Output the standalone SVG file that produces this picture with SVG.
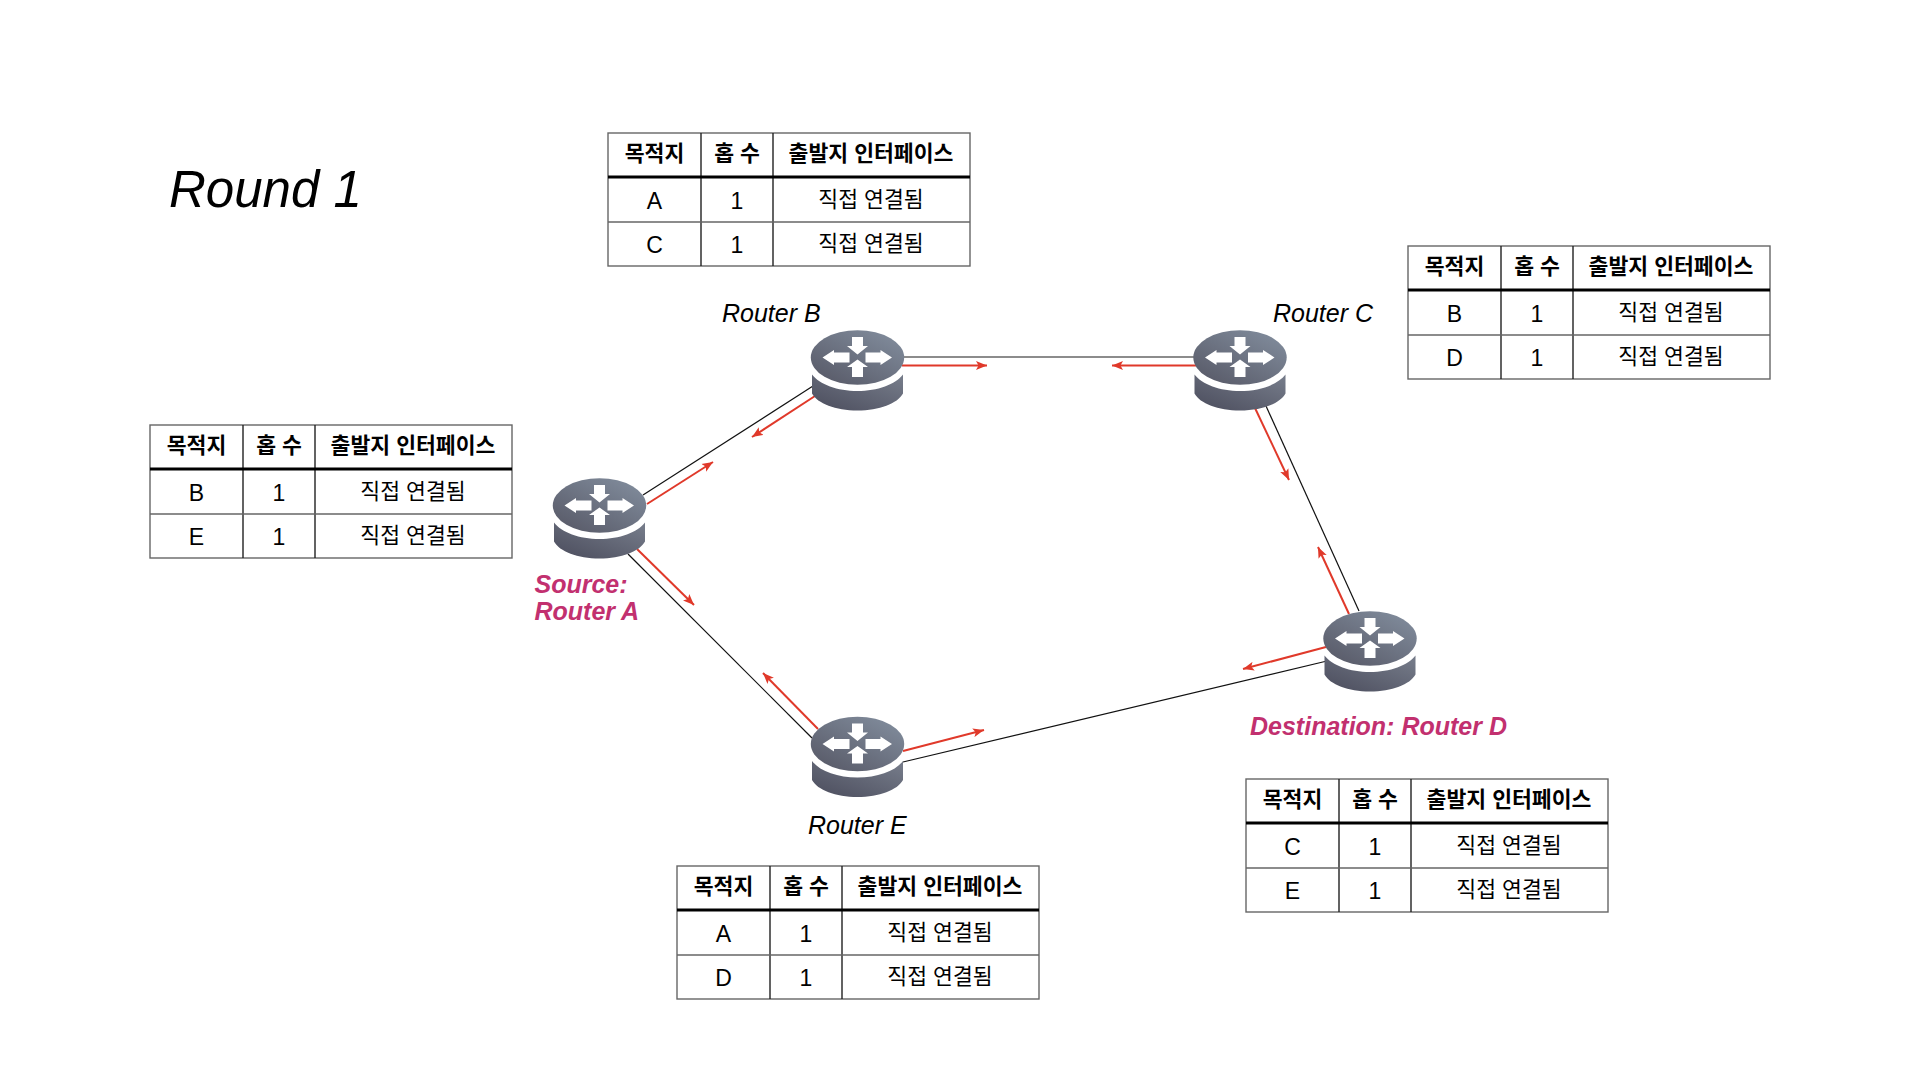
<svg xmlns="http://www.w3.org/2000/svg" width="1920" height="1080" viewBox="0 0 1920 1080">
<style>
text{font-family:"Liberation Sans","Noto Sans CJK KR",sans-serif;fill:#000}
.title{font-size:51px;font-style:italic}
.rl{font-size:25px;font-style:italic}
.pk{font-size:25px;font-style:italic;font-weight:700;fill:#c2306f}
.h{font-size:21.6px;font-weight:700;text-anchor:middle}
.c{font-size:23px;text-anchor:middle}
.k{font-size:21.6px;text-anchor:middle}
.o{fill:none;stroke:#666;stroke-width:1.4}
.i{fill:none;stroke:#222;stroke-width:1.4}
.hl{fill:none;stroke:#000;stroke-width:3}
.blk{stroke:#111;stroke-width:1.2;fill:none}
.gry{stroke:#666;stroke-width:1.6;fill:none}
.red{stroke:#e0392a;stroke-width:2;fill:none;marker-end:url(#ah)}
</style>
<defs>
<marker id="ah" markerUnits="userSpaceOnUse" markerWidth="12" markerHeight="10" viewBox="0 0 12 10" refX="11" refY="5" orient="auto">
<path d="M0,0.5L11,5L0,9.5L2.5,5Z" fill="#e0392a"/>
</marker>
<linearGradient id="gt" x1="0.1" y1="0.95" x2="0.9" y2="0.05">
<stop offset="0" stop-color="#585a68"/><stop offset="1" stop-color="#818c9c"/>
</linearGradient>
<linearGradient id="gb" x1="0.1" y1="0.95" x2="0.95" y2="0.1">
<stop offset="0" stop-color="#4e5060"/><stop offset="1" stop-color="#747a88"/>
</linearGradient>
<g id="router">
<path d="M-45.5,17C-38,27 -20,33.5 0,33.5S38,27 45.5,17L45.5,36C40,46 22,53 0,53S-40,46 -45.5,36Z" fill="url(#gb)"/>
<ellipse cx="0" cy="0" rx="46.7" ry="27.3" fill="url(#gt)"/>
<path fill="#fff" d="M-5.5,-20.5H5.5V-11.5H10.5L0,-3L-10.5,-11.5H-5.5Z"/>
<path fill="#fff" d="M-5.5,19.5H5.5V9.5H10.5L0,2L-10.5,9.5H-5.5Z"/>
<path fill="#fff" d="M-35,0L-23.5,-7.5V-5H-8V5H-23.5V7.5Z"/>
<path fill="#fff" d="M34.5,0L23,-7.5V-5H8V5H23V7.5Z"/>
</g>
<g id="frame">
<rect class="o" x="0" y="0" width="362" height="133"/>
<path class="i" d="M93,0V133M165,0V133"/>
<path class="o" d="M0,89H362"/>
<path class="hl" d="M0,44H362"/>
<text class="h" x="46.5" y="28">목적지</text>
<text class="h" x="129" y="28">홉 수</text>
<text class="h" x="263" y="28">출발지 인터페이스</text>
<text class="k" x="263" y="74">직접 연결됨</text>
<text class="k" x="263" y="118">직접 연결됨</text>
<text class="c" x="129" y="75.5">1</text>
<text class="c" x="129" y="120">1</text>
</g>
</defs>
<rect width="1920" height="1080" fill="#fff"/>
<text class="title" x="169" y="207">Round 1</text>
<g id="connectors">
<path class="gry" d="M903,357H1196"/>
<path class="blk" d="M643,495L813,386"/>
<path class="blk" d="M628,554L812,738"/>
<path class="blk" d="M903,762L1327,661"/>
<path class="blk" d="M1266,406L1359,611"/>
<path class="red" d="M902,365.5H987"/>
<path class="red" d="M1196,365.5H1112"/>
<path class="red" d="M647,504L713,462"/>
<path class="red" d="M815,396L752,437"/>
<path class="red" d="M637,549L694,605"/>
<path class="red" d="M818,729L763,673"/>
<path class="red" d="M903,751L984,730"/>
<path class="red" d="M1326,647L1243,669"/>
<path class="red" d="M1255,408L1289,480"/>
<path class="red" d="M1349,614L1318,547"/>
</g>
<g id="router-a"><use href="#router" x="599.5" y="505.5"/><text class="pk" x="534.5" y="592.5">Source:</text><text class="pk" x="534.5" y="619.5">Router A</text></g>
<g id="router-b"><use href="#router" x="857.5" y="357.5"/><text class="rl" x="722" y="322">Router B</text></g>
<g id="router-c"><use href="#router" x="1240" y="357.5"/><text class="rl" x="1273" y="322">Router C</text></g>
<g id="router-d"><use href="#router" x="1370" y="638.5"/><text class="pk" x="1250" y="735">Destination: Router D</text></g>
<g id="router-e"><use href="#router" x="857.5" y="744"/><text class="rl" x="808" y="834">Router E</text></g>
<g id="table-b" transform="translate(608,133)"><use href="#frame"/><text class="c" x="46.5" y="75.5">A</text><text class="c" x="46.5" y="120">C</text></g>
<g id="table-c" transform="translate(1408,246)"><use href="#frame"/><text class="c" x="46.5" y="75.5">B</text><text class="c" x="46.5" y="120">D</text></g>
<g id="table-a" transform="translate(150,425)"><use href="#frame"/><text class="c" x="46.5" y="75.5">B</text><text class="c" x="46.5" y="120">E</text></g>
<g id="table-d" transform="translate(1246,779)"><use href="#frame"/><text class="c" x="46.5" y="75.5">C</text><text class="c" x="46.5" y="120">E</text></g>
<g id="table-e" transform="translate(677,866)"><use href="#frame"/><text class="c" x="46.5" y="75.5">A</text><text class="c" x="46.5" y="120">D</text></g>
</svg>
